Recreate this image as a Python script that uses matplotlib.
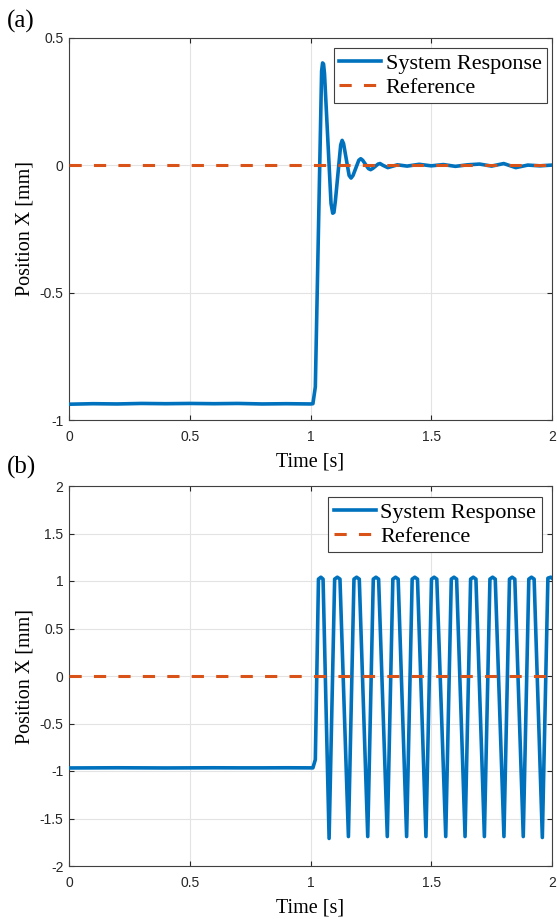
import numpy as np
import matplotlib.pyplot as plt

plt.rcParams['axes.unicode_minus'] = False

# (a) step response, damped
t_a = [0.0, 0.1, 0.2, 0.3, 0.4, 0.5, 0.6, 0.7, 0.8, 0.9, 1.0, 1.01, 1.02,
       1.046, 1.050, 1.054, 1.058, 1.085, 1.092, 1.097, 1.103, 1.125, 1.131,
       1.137, 1.160, 1.168, 1.176, 1.200, 1.208, 1.216, 1.240, 1.249, 1.258,
       1.280, 1.288, 1.30, 1.32, 1.36, 1.40, 1.45, 1.50, 1.55, 1.60, 1.65,
       1.70, 1.75, 1.80, 1.85, 1.90, 1.95, 2.0]
x_a = [-0.938, -0.936, -0.937, -0.935, -0.936, -0.935, -0.936, -0.935, -0.937,
       -0.936, -0.937, -0.936, -0.870, 0.370, 0.402, 0.398, 0.360, -0.150,
       -0.188, -0.185, -0.140, 0.080, 0.098, 0.085, -0.040, -0.050, -0.040,
       0.020, 0.026, 0.020, -0.013, -0.017, -0.012, 0.005, 0.007, 0.000,
       -0.009, 0.002, -0.003, 0.004, -0.002, 0.003, -0.004, 0.002, 0.005,
       -0.003, 0.007, -0.009, 0.001, -0.002, 0.001]

# (b) sustained oscillation
t_b0 = [0.0, 0.1, 0.2, 0.3, 0.4, 0.5, 0.6, 0.7, 0.8, 0.9, 1.0, 1.01, 1.02]
x_b0 = [-0.968, -0.967, -0.966, -0.967, -0.968, -0.967, -0.966, -0.967,
        -0.967, -0.966, -0.967, -0.967, -0.880]
peak_on_t = [1.033, 1.100, 1.180, 1.260, 1.341, 1.421, 1.501, 1.583, 1.663,
             1.743, 1.824, 1.904, 1.983]
peak_mid_t = [1.043, 1.111, 1.191, 1.271, 1.352, 1.432, 1.512, 1.594, 1.674,
              1.754, 1.835, 1.915, 1.995]
peak_off_t = [1.052, 1.122, 1.202, 1.282, 1.363, 1.443, 1.523, 1.605, 1.685,
              1.765, 1.846, 1.926, 2.0]
peak_edge_x = [1.02, 1.02, 1.02, 1.02, 1.02, 1.02, 1.02, 1.02, 1.02, 1.02,
               1.02, 1.02, 1.03]
peak_x = [1.04, 1.04, 1.04, 1.04, 1.04, 1.04, 1.04, 1.04, 1.04, 1.04, 1.04,
          1.04, 1.04]
trough_t = [1.077, 1.157, 1.237, 1.318, 1.398, 1.478, 1.560, 1.640, 1.720,
            1.801, 1.881, 1.960]
trough_x = [-1.71, -1.69, -1.69, -1.69, -1.69, -1.69, -1.69, -1.69, -1.69,
            -1.69, -1.69, -1.70]

ref_t = [0.0, 2.0]
ref_x = [0.0, 0.0]

t_b = list(t_b0)
x_b = list(x_b0)
for k in range(len(peak_on_t)):
    t_b += [peak_on_t[k], peak_mid_t[k], peak_off_t[k]]
    x_b += [peak_edge_x[k], peak_x[k], peak_edge_x[k]]
    if k < len(trough_t):
        t_b.append(trough_t[k])
        x_b.append(trough_x[k])

blue = '#0072BD'
orange = '#D95319'
serif = 'Liberation Serif'
sans = 'Liberation Sans'

fig = plt.figure(figsize=(5.57, 9.19), dpi=100)
ax1 = fig.add_axes([69/557, 1-420/919, 483/557, 382/919])
ax2 = fig.add_axes([69/557, 1-866/919, 483/557, 380/919])

panels = [
    (ax1, t_a, x_a, [-1, -0.5, 0, 0.5], ['-1', '-0.5', '0', '0.5'], (-1, 0.5), (0.99, 0.974)),
    (ax2, t_b, x_b, [-2, -1.5, -1, -0.5, 0, 0.5, 1, 1.5, 2],
     ['-2', '-1.5', '-1', '-0.5', '0', '0.5', '1', '1.5', '2'], (-2, 2), (0.979, 0.972)),
]

for ax, t, x, yt, ytl, ylim, anchor in panels:
    ax.plot(t, x, color=blue, lw=2.6, label='System Response', zorder=3)
    ax.plot(ref_t, ref_x, color=orange, lw=2.2, dashes=(4, 4), label='Reference', zorder=4)
    ax.set_xlim(0, 2)
    ax.set_ylim(*ylim)
    ax.set_xticks([0, 0.5, 1, 1.5, 2])
    ax.set_xticklabels(['0', '0.5', '1', '1.5', '2'], fontfamily=sans, fontsize=10)
    ax.set_yticks(yt)
    ax.set_yticklabels(ytl, fontfamily=sans, fontsize=10)
    ax.tick_params(direction='in', length=3.5, width=0.8, colors='#262626',
                   top=True, right=True)
    ax.tick_params(axis='x', pad=7)
    ax.tick_params(axis='y', pad=4)
    ax.grid(True, color='#e3e3e3', lw=0.8)
    ax.set_axisbelow(True)
    for s in ax.spines.values():
        s.set_color('#404040')
        s.set_linewidth(0.8)
    ax.set_xlabel('Time [s]', fontfamily=serif, fontsize=14.5, labelpad=6)
    ax.set_ylabel('Position X [mm]', fontfamily=serif, fontsize=14.5, labelpad=4)
    leg = ax.legend(loc='upper right', bbox_to_anchor=anchor, fancybox=False,
                    framealpha=1, edgecolor='#404040', handlelength=1.9,
                    handletextpad=0.2, labelspacing=0.15, borderpad=0.25,
                    borderaxespad=0, prop={'family': serif, 'size': 16})
    leg.get_frame().set_linewidth(0.8)

fig.text(7/557, 1-10/919, '(a)', fontfamily=serif, fontsize=18, va='top', ha='left')
fig.text(7/557, 1-456/919, '(b)', fontfamily=serif, fontsize=18, va='top', ha='left')

fig.savefig('out.png', dpi=100)
